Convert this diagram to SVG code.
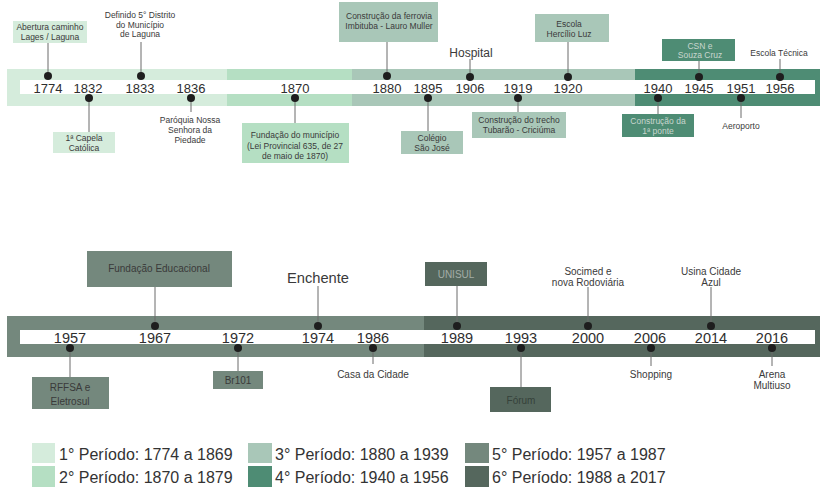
<svg xmlns="http://www.w3.org/2000/svg" width="820" height="490" viewBox="0 0 820 490">
<style>
text{font-family:"Liberation Sans",Arial,sans-serif;fill:#3a3a3a;text-anchor:middle}
.yr{font-size:13px;fill:#2e2e2e}
.yb{font-size:14.5px;fill:#2e2e2e}
.s{font-size:8.5px}
.m{font-size:10px}
.lt{fill:#c9d6cf}
.lg{font-size:16px;text-anchor:start;fill:#333}
.p1{fill:#d5ecdc}.p2{fill:#b5dfc3}.p3{fill:#a9c7b8}.p4{fill:#4e8c74}.p5{fill:#74887d}.p6{fill:#55675d}
.c line{stroke:#6a6a6a;stroke-width:1}
.d{fill:#1e1e1e}
</style>
<rect width="820" height="490" fill="#ffffff"/>
<g id="bands">
<rect class="p1" x="7" y="69" width="221" height="37"/>
<rect class="p2" x="227" y="69" width="126" height="37"/>
<rect class="p3" x="352" y="69" width="284" height="37"/>
<rect class="p4" x="635" y="69" width="185" height="37"/>
<rect fill="#fff" x="20" y="80" width="795" height="14"/>
<rect class="p5" x="7" y="316" width="418" height="41"/>
<rect class="p6" x="424" y="316" width="396" height="41"/>
<rect fill="#fff" x="20" y="330" width="795" height="14"/>
</g>
<g class="c" id="connectors">
<line x1="48" y1="43" x2="48" y2="76"/>
<line x1="141" y1="42" x2="141" y2="76"/>
<line x1="89" y1="98" x2="89" y2="132"/>
<line x1="191" y1="98" x2="191" y2="112"/>
<line x1="295" y1="98" x2="295" y2="123"/>
<line x1="387" y1="42" x2="387" y2="76"/>
<line x1="470" y1="59" x2="470" y2="77"/>
<line x1="428" y1="98" x2="428" y2="131"/>
<line x1="518" y1="98" x2="518" y2="112"/>
<line x1="568" y1="42" x2="568" y2="77"/>
<line x1="658" y1="98" x2="658" y2="114"/>
<line x1="699" y1="61" x2="699" y2="77"/>
<line x1="741" y1="98" x2="741" y2="118"/>
<line x1="780" y1="59" x2="780" y2="77"/>
<line x1="155" y1="287" x2="155" y2="326"/>
<line x1="70" y1="348" x2="70" y2="377"/>
<line x1="238" y1="348" x2="238" y2="371"/>
<line x1="318" y1="286" x2="318" y2="326"/>
<line x1="373" y1="348" x2="373" y2="364"/>
<line x1="457" y1="286" x2="457" y2="326"/>
<line x1="521" y1="348" x2="521" y2="387"/>
<line x1="588" y1="287" x2="588" y2="326"/>
<line x1="651" y1="348" x2="651" y2="366"/>
<line x1="711" y1="287" x2="711" y2="326"/>
<line x1="772" y1="348" x2="772" y2="366"/>
</g>
<g id="n1774"><circle class="d" cx="48" cy="76" r="4"/><text class="yr" x="48" y="93">1774</text>
<rect class="p1" x="13" y="21" width="74" height="22"/><text class="s" x="50" y="29.5">Abertura caminho</text><text class="s" x="50" y="39.5">Lages / Laguna</text></g>
<g id="n1832"><circle class="d" cx="89" cy="98" r="4"/><text class="yr" x="88" y="93">1832</text>
<rect class="p1" x="53" y="132" width="62" height="21"/><text class="s" x="84" y="140.5">1ª Capela</text><text class="s" x="84" y="150.5">Católica</text></g>
<g id="n1833"><circle class="d" cx="141" cy="76" r="4"/><text class="yr" x="140" y="93">1833</text>
<text class="s" x="140" y="18">Definido 5° Distrito</text><text class="s" x="140" y="27.5">do Município</text><text class="s" x="140" y="37">de Laguna</text></g>
<g id="n1836"><circle class="d" cx="191" cy="98" r="4"/><text class="yr" x="191" y="93">1836</text>
<text class="s" x="190" y="123">Paróquia Nossa</text><text class="s" x="190" y="133">Senhora da</text><text class="s" x="190" y="143">Piedade</text></g>
<g id="n1870"><circle class="d" cx="295" cy="98" r="4"/><text class="yr" x="295" y="93">1870</text>
<rect class="p2" x="242" y="123" width="107" height="40"/><text class="s" x="295" y="138">Fundação do município</text><text class="s" x="295" y="148.5">(Lei Provincial 635, de 27</text><text class="s" x="295" y="158.5">de maio de 1870)</text></g>
<g id="n1880"><circle class="d" cx="387" cy="76" r="4"/><text class="yr" x="387" y="93">1880</text>
<rect class="p3" x="339" y="2" width="99" height="40"/><text class="s" x="389" y="19">Construção da ferrovia</text><text class="s" x="389" y="29">Imbituba - Lauro Muller</text></g>
<g id="n1895"><circle class="d" cx="428" cy="98" r="4"/><text class="yr" x="428" y="93">1895</text>
<rect class="p3" x="401" y="131" width="62" height="23"/><text class="s" x="432" y="141">Colégio</text><text class="s" x="432" y="151">São José</text></g>
<g id="n1906"><circle class="d" cx="470" cy="77" r="4"/><text class="yr" x="470" y="93">1906</text>
<text x="471" y="57" style="font-size:12px">Hospital</text></g>
<g id="n1919"><circle class="d" cx="518" cy="98" r="4"/><text class="yr" x="518" y="93">1919</text>
<rect class="p3" x="472" y="112" width="94" height="26"/><text class="s" x="519" y="123">Construção do trecho</text><text class="s" x="519" y="132.5">Tubarão - Criciúma</text></g>
<g id="n1920"><circle class="d" cx="568" cy="77" r="4"/><text class="yr" x="568" y="93">1920</text>
<rect class="p3" x="535" y="14" width="74" height="28"/><text class="s" x="569" y="27">Escola</text><text class="s" x="569" y="36.5">Hercílio Luz</text></g>
<g id="n1940"><circle class="d" cx="658" cy="98" r="4"/><text class="yr" x="658" y="93">1940</text>
<rect class="p4" x="622" y="114" width="72" height="23"/><text class="s lt" x="658" y="124">Construção da</text><text class="s lt" x="658" y="134">1ª ponte</text></g>
<g id="n1945"><circle class="d" cx="699" cy="77" r="4"/><text class="yr" x="699" y="93">1945</text>
<rect class="p4" x="662" y="39" width="73" height="22"/><text class="s lt" x="700" y="48.5">CSN e</text><text class="s lt" x="700" y="58">Souza Cruz</text></g>
<g id="n1951"><circle class="d" cx="741" cy="98" r="4"/><text class="yr" x="741" y="93">1951</text>
<text class="s" x="741" y="128.5">Aeroporto</text></g>
<g id="n1956"><circle class="d" cx="780" cy="77" r="4"/><text class="yr" x="780" y="93">1956</text>
<text class="s" x="779" y="56">Escola Técnica</text></g>
<g id="n1957"><circle class="d" cx="70" cy="348" r="4"/><text class="yb" x="70" y="343">1957</text>
<rect class="p5" x="32" y="377" width="77" height="32"/><text class="m" x="70" y="391">RFFSA e</text><text class="m" x="70" y="405">Eletrosul</text></g>
<g id="n1967"><circle class="d" cx="155" cy="326" r="4"/><text class="yb" x="155" y="343">1967</text>
<rect class="p5" x="87" y="251" width="145" height="36"/><text class="m" x="159" y="272">Fundação Educacional</text></g>
<g id="n1972"><circle class="d" cx="238" cy="348" r="4"/><text class="yb" x="238" y="343">1972</text>
<rect class="p5" x="213" y="371" width="50" height="18"/><text class="m" x="238" y="383.5">Br101</text></g>
<g id="n1974"><circle class="d" cx="318" cy="326" r="4"/><text class="yb" x="318" y="343">1974</text>
<text x="318" y="283" style="font-size:14.7px">Enchente</text></g>
<g id="n1986"><circle class="d" cx="373" cy="348" r="4"/><text class="yb" x="373" y="343">1986</text>
<text class="m" x="373" y="377.5">Casa da Cidade</text></g>
<g id="n1989"><circle class="d" cx="457" cy="326" r="4"/><text class="yb" x="457" y="343">1989</text>
<rect class="p6" x="425" y="262" width="62" height="24"/><text class="m" x="456" y="277.5" style="fill:#a3ada7">UNISUL</text></g>
<g id="n1993"><circle class="d" cx="521" cy="348" r="4"/><text class="yb" x="521" y="343">1993</text>
<rect class="p6" x="490" y="387" width="61" height="25"/><text class="m" x="521" y="403.5" style="fill:#36423b">Fórum</text></g>
<g id="n2000"><circle class="d" cx="588" cy="326" r="4"/><text class="yb" x="588" y="343">2000</text>
<text class="m" x="588" y="274.5">Socimed e</text><text class="m" x="588" y="286">nova Rodoviária</text></g>
<g id="n2006"><circle class="d" cx="651" cy="348" r="4"/><text class="yb" x="650" y="343">2006</text>
<text class="m" x="651" y="377.5">Shopping</text></g>
<g id="n2014"><circle class="d" cx="711" cy="326" r="4"/><text class="yb" x="711" y="343">2014</text>
<text class="m" x="711" y="274.5">Usina Cidade</text><text class="m" x="711" y="286">Azul</text></g>
<g id="n2016"><circle class="d" cx="772" cy="348" r="4"/><text class="yb" x="772" y="343">2016</text>
<text class="m" x="772" y="377.5">Arena</text><text class="m" x="772" y="388.5">Multiuso</text></g>
<g id="legend">
<rect class="p1" x="32" y="443" width="23" height="20"/><text class="lg" x="59" y="460">1° Período: 1774 a 1869</text>
<rect class="p2" x="32" y="466" width="23" height="21"/><text class="lg" x="59" y="483">2° Período: 1870 a 1879</text>
<rect class="p3" x="248" y="443" width="24" height="20"/><text class="lg" x="275" y="460">3° Período: 1880 a 1939</text>
<rect class="p4" x="248" y="466" width="24" height="21"/><text class="lg" x="275" y="483">4° Período: 1940 a 1956</text>
<rect class="p5" x="465" y="443" width="24" height="20"/><text class="lg" x="492" y="460">5° Período: 1957 a 1987</text>
<rect class="p6" x="465" y="466" width="24" height="21"/><text class="lg" x="492" y="483">6° Período: 1988 a 2017</text>
</g>
</svg>
